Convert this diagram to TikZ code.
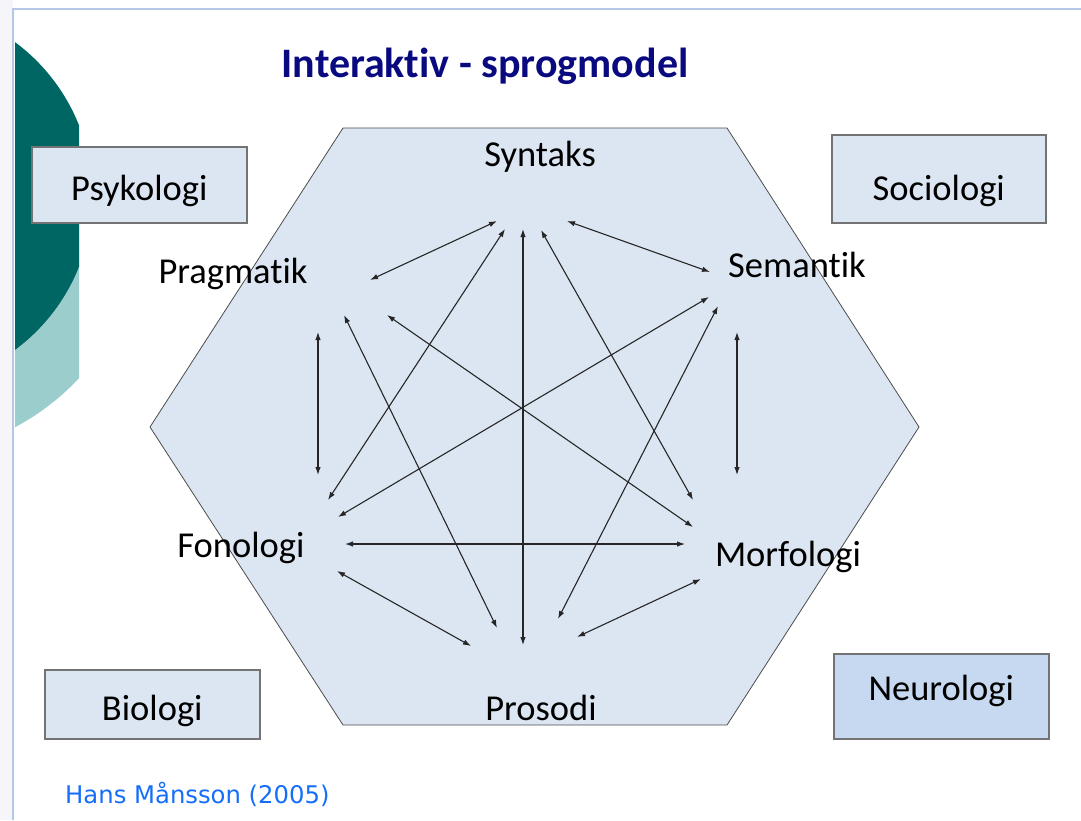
\documentclass[tikz,border=0pt]{standalone}
\usepackage{fontspec}
\setmainfont{Carlito}[Ligatures=NoCommon]
\newfontfamily\reffont{DejaVu Sans}
\usetikzlibrary{positioning,
arrows.meta}
\definecolor{hexfill}{RGB}{220,230,242}
\definecolor{neurofill}{RGB}{198,217,241}
\definecolor{tealdark}{RGB}{0,102,99}
\definecolor{teallight}{RGB}{155,205,204}
\definecolor{titleblue}{RGB}{10,10,128}
\definecolor{refblue}{RGB}{20,110,250}
\definecolor{framelight}{RGB}{180,199,231}
\definecolor{sidegray}{RGB}{246,246,250}
\newcommand\areafont{\fontsize{36.5}{42}\selectfont}
\tikzstyle{Link} = [
line width=1.1pt, draw={black!85},
{Latex[length=8pt,width=5.5pt]}-{Latex[length=8pt,width=5.5pt]}
]
\tikzstyle{Area} = [inner sep=0pt, anchor=base, font=\areafont]
\tikzstyle{Field} = [
rectangle, draw={black!55}, line width=1.6pt, fill=hexfill,
inner sep=0pt, anchor=north west, minimum width=215pt, font=\areafont
]

\begin{document}
\begin{tikzpicture}[x=1pt,y=-1pt]
            \useasboundingbox (0,0) rectangle (1081,820);
            % left band of the slide
            \fill[sidegray] (0,0) rectangle (13,820);
            \begin{scope}
                \clip (15,200) rectangle (79,820);
                \fill[teallight] (-99,212) circle[radius=243.5pt];
            \end{scope}
            \begin{scope}
                \clip (15,0) rectangle (79,820);
                \fill[tealdark] (-99,196) circle[radius=191.5pt];
            \end{scope}
            \draw[framelight, line width=1.5pt] (13,820) -- (13,9) -- (1081,9);

            \node [anchor=base, text=titleblue, font=\fontsize{42}{48}\selectfont\bfseries] (title) at (485,77) {Interaktiv - sprogmodel};

            \draw[fill=hexfill, draw=black!70, line width=0.8pt] (343,128) -- (727,128) -- (919,427) -- (727,725) -- (343,725) -- (150,427) -- cycle;

            \node [Area] (syn) at (540,166) {Syntaks};
            \node [Area] (pra) at (233,283) {Pragmatik};
            \node [Area] (sem) at (797,277) {Semantik};
            \node [Area] (fon) at (241,557) {Fonologi};
            \node [Area] (mor) at (788,566) {Morfologi};
            \node [Area] (pro) at (541,720) {Prosodi};

            \foreach \n/\x/\y in {syn-pra/497/221, pra-syn/370/280,
                syn-fon/505/229, fon-syn/328/500,
                syn-pro/523/229, pro-syn/523/645,
                syn-mor/541/230, mor-syn/693/500,
                syn-sem/567/221, sem-syn/710/272,
                pra-pro/344/315, pro-pra/497/628,
                pra-mor/387/315, mor-pra/693/527,
                pra-fon/318/332, fon-pra/318/475,
                sem-fon/709/297, fon-sem/338/517,
                sem-pro/718/306, pro-sem/558/619,
                sem-mor/737/332, mor-sem/737/475,
                fon-mor/345/544, mor-fon/685/544,
                fon-pro/337/571, pro-fon/471/646,
                mor-pro/701/579, pro-mor/577/637}
                \coordinate (\n) at (\x,\y);

            \foreach \a/\b in {syn/pra, syn/fon, syn/pro, syn/mor, syn/sem,
                pra/pro, pra/mor, pra/fon, sem/fon, sem/pro,
                sem/mor, fon/mor, fon/pro, mor/pro}
                \draw[Link] (\a-\b) -- (\b-\a);

            \node [Field, text height=54pt, text depth=22pt] (psy) at (31,146) {Psykologi};
            \node [Field, text height=66pt, text depth=22pt, minimum width=214pt] (soc) at (831,134) {Sociologi};
            \node [Field, text height=51pt, text depth=18pt] (bio) at (44,669) {Biologi};
            \node [Field, text height=47pt, text depth=38pt, fill=neurofill] (neu) at (833,653) {Neurologi};

            \node [anchor=base west, inner sep=0pt, text=refblue, font=\reffont\fontsize{24.3}{29}\selectfont] (ref) at (65,803) {Hans Månsson (2005)};
        \end{tikzpicture}
\end{document}
